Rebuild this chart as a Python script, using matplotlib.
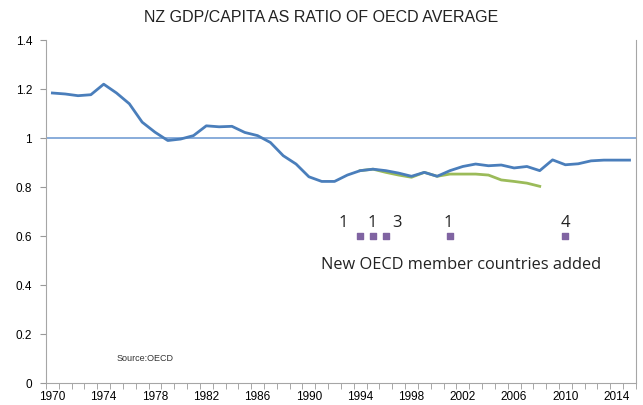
import numpy as np
import matplotlib
matplotlib.use("Agg")
import matplotlib.pyplot as plt

# NZ GDP per capita as ratio of OECD average
years = list(range(1970, 2016))
nz_ratio = [1.184, 1.18, 1.173, 1.177, 1.22, 1.184, 1.14, 1.065, 1.024, 0.99,
            0.996, 1.01, 1.05, 1.046, 1.048, 1.023, 1.01, 0.982, 0.928, 0.894,
            0.842, 0.823, 0.823, 0.849, 0.867, 0.873, 0.867, 0.857, 0.844, 0.86,
            0.844, 0.867, 0.884, 0.894, 0.887, 0.89, 0.878, 0.884, 0.867, 0.911,
            0.891, 0.895, 0.907, 0.91, 0.91, 0.91]

# second series (fixed membership), 1994-2008
fixed_years = list(range(1994, 2009))
fixed_ratio = [0.867, 0.873, 0.86, 0.849, 0.84, 0.86, 0.844, 0.853, 0.853,
               0.853, 0.849, 0.829, 0.823, 0.816, 0.803]

# years new OECD members joined, and how many
join_years = [1994, 1995, 1996, 2001, 2010]
join_counts = ["1", "1", "3", "1", "4"]
join_level = 0.6
label_x = [1992.65, 1994.9, 1996.85, 2000.9, 2010.0]

tick_years = list(range(1970, 2016, 4))

plt.rcParams['font.family'] = ['Liberation Sans', 'DejaVu Sans']

fig = plt.figure(figsize=(6.43, 4.05), dpi=100)
ax = fig.add_axes([0.0715, 0.0543, 0.9175, 0.8467])

ax.axhline(1.0, color='#7fa6d8', lw=1.3, zorder=1)
ax.plot(years, nz_ratio, color='#4a7ebb', lw=2, zorder=3)
ax.plot(fixed_years, fixed_ratio, color='#9bbb59', lw=2, zorder=2)
ax.scatter(join_years, [join_level] * len(join_years), marker='s', s=22,
           color='#8064a2', zorder=4)
for x, t in zip(label_x, join_counts):
    ax.text(x, 0.653, t, ha='center', va='center', fontsize=12,
            family=['Open Sans', 'DejaVu Sans'], color='#222222')

ax.text(2001.9, 0.48, 'New OECD member countries added', ha='center',
        va='center', fontsize=11.8, family=['Open Sans', 'DejaVu Sans'],
        color='#222222')
ax.text(1975.0, 0.10, 'Source:OECD', ha='left', va='center', fontsize=6.5,
        color='#333333')

fig.suptitle('NZ GDP/CAPITA AS RATIO OF OECD AVERAGE', x=0.5, y=0.975,
             fontsize=11.5, color='#222222')

ax.set_xlim(1969.5, 2015.5)
ax.set_ylim(0, 1.4)
ax.set_yticks(np.arange(0, 1.41, 0.2))
ax.set_yticklabels(['0', '0.2', '0.4', '0.6', '0.8', '1', '1.2', '1.4'])
ax.set_xticks(tick_years)
ax.set_xticks(np.arange(1969.5, 2016, 1), minor=True)
ax.tick_params(axis='x', which='major', length=0, pad=6, labelsize=8.5)
ax.tick_params(axis='x', which='minor', length=4, color='#999999')
ax.tick_params(axis='y', length=4, color='#999999', labelsize=8.5, pad=6)

for side in ['left', 'bottom', 'right']:
    ax.spines[side].set_color('#a6a6a6')
ax.spines['top'].set_visible(False)

fig.savefig('out.png', dpi=100)
